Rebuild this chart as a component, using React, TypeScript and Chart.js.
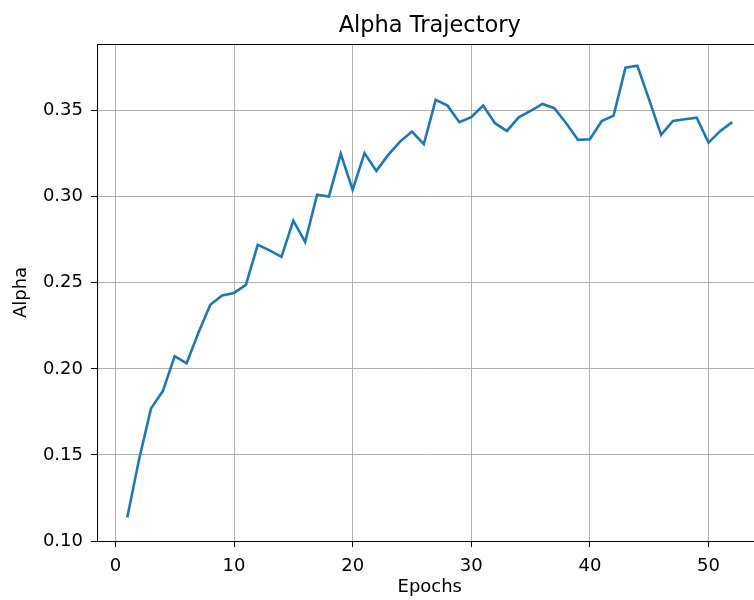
import React, { useEffect, useRef } from "react";
import { Chart, registerables } from "chart.js";

Chart.register(...registerables);

const epochs = [
  1, 2, 3, 4, 5, 6, 7, 8, 9, 10, 11, 12, 13, 14, 15, 16, 17, 18, 19, 20, 21, 22, 23, 24, 25, 26,
  27, 28, 29, 30, 31, 32, 33, 34, 35, 36, 37, 38, 39, 40, 41, 42, 43, 44, 45, 46, 47, 48, 49, 50, 51, 52,
];

const alpha = [
  0.1137, 0.1475, 0.1769, 0.1871, 0.2074, 0.2032, 0.221, 0.2372, 0.2426, 0.2441, 0.2488, 0.272, 0.2688,
  0.265, 0.2861, 0.2737, 0.3011, 0.3001, 0.3249, 0.304, 0.3253, 0.315, 0.3243, 0.332, 0.3378, 0.3305,
  0.3562, 0.3529, 0.3433, 0.3462, 0.3529, 0.3427, 0.3382, 0.3461, 0.3498, 0.3539, 0.3514, 0.3427, 0.333,
  0.3334, 0.344, 0.3471, 0.3749, 0.3761, 0.3562, 0.3359, 0.344, 0.345, 0.3459, 0.3314, 0.3382, 0.3433,
];

const titleText = "Alpha Trajectory";
const xLabel = "Epochs";
const yLabel = "Alpha";

const xRange = [-1.55, 54.55];
const yRange = [0.1, 0.3887];
const xStep = 10;
const yStep = 0.05;

const FONT = "'DejaVu Sans', sans-serif";

const frame = {
  id: "frame",
  afterDatasetsDraw(chart: any) {
    const { ctx, chartArea } = chart;
    ctx.save();
    ctx.strokeStyle = "#000";
    ctx.lineWidth = 1;
    ctx.strokeRect(
      Math.round(chartArea.left) + 0.5,
      Math.round(chartArea.top) + 0.5,
      Math.round(chartArea.right - chartArea.left),
      Math.round(chartArea.bottom - chartArea.top)
    );
    ctx.fillStyle = "#000";
    ctx.font = `22.5px ${FONT}`;
    ctx.textAlign = "center";
    ctx.textBaseline = "alphabetic";
    ctx.fillText(titleText, (chartArea.left + chartArea.right) / 2, 32);
    ctx.restore();
  },
};

export default function App() {
  const ref = useRef<HTMLCanvasElement | null>(null);
  useEffect(() => {
    if (!ref.current) return;
    const chart = new Chart(ref.current, {
      type: "line",
      data: {
        datasets: [
          {
            data: epochs.map((e, i) => ({ x: e, y: alpha[i] })),
            borderColor: "#1f77b4",
            borderWidth: 2.6,
            pointRadius: 0,
            tension: 0,
            fill: false,
          },
        ],
      },
      options: {
        animation: false,
        responsive: false,
        layout: { padding: { left: 0, right: 17.5, top: 44, bottom: 0 } },
        plugins: {
          legend: { display: false },
          tooltip: { enabled: false },
          title: { display: false },
        },
        scales: {
          x: {
            type: "linear",
            min: xRange[0],
            max: xRange[1],
            afterFit: (s: any) => {
              s.height = 59;
            },
            ticks: {
              stepSize: xStep,
              includeBounds: false,
              color: "#000",
              font: { family: FONT, size: 18 },
              padding: 9,
              maxRotation: 0,
            },
            grid: { color: "#b0b0b0", lineWidth: 1, tickLength: 6, tickColor: "#000" },
            border: { display: false },
            title: {
              display: true,
              text: xLabel,
              color: "#000",
              font: { family: FONT, size: 18 },
              padding: { top: 0, bottom: 2 },
            },
          },
          y: {
            type: "linear",
            min: yRange[0],
            max: yRange[1],
            afterFit: (s: any) => {
              s.width = 97;
            },
            ticks: {
              stepSize: yStep,
              includeBounds: false,
              color: "#000",
              font: { family: FONT, size: 18 },
              padding: 8,
              callback: (v: any) => Number(v).toFixed(2),
            },
            grid: { color: "#b0b0b0", lineWidth: 1, tickLength: 6, tickColor: "#000" },
            border: { display: false },
            title: {
              display: true,
              text: yLabel,
              color: "#000",
              font: { family: FONT, size: 18 },
              padding: { top: 11, bottom: 0 },
            },
          },
        },
      },
      plugins: [frame],
    });
    return () => chart.destroy();
  }, []);
  return (
    <div style={{ position: "fixed", left: 0, top: 0, width: 754, height: 600, overflow: "hidden", background: "#fff" }}>
      <canvas ref={ref} width={780} height={600} style={{ display: "block" }} />
    </div>
  );
}
